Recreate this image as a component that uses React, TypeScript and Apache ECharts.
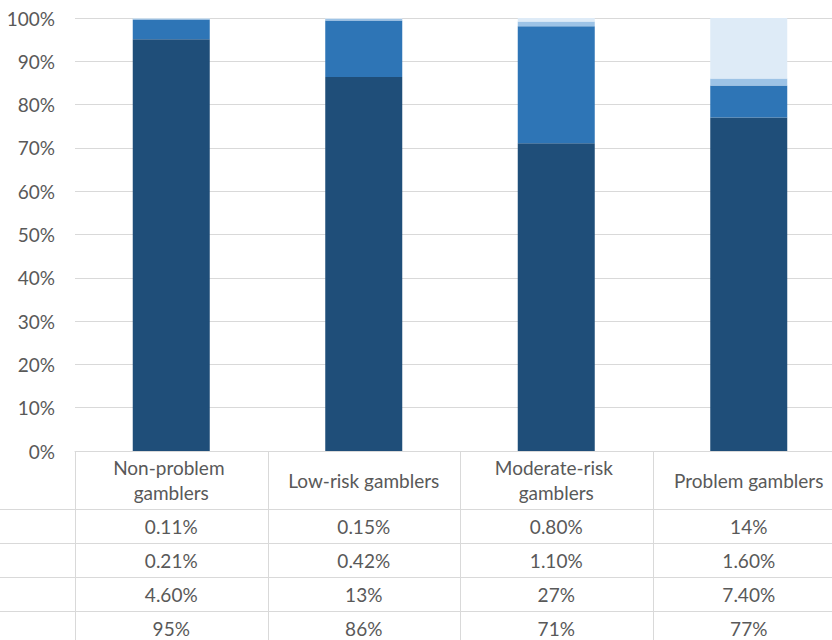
import React, { useEffect, useRef } from "react";
import * as echarts from "echarts";

// Gambler groups shown as columns
const categories = [
  "Non-problem gamblers",
  "Low-risk gamblers",
  "Moderate-risk gamblers",
  "Problem gamblers",
];

// Shares (percent) for each stacked band, bottom band first
const baseShare = [95, 86, 71, 77];
const secondShare = [4.6, 13, 27, 7.4];
const thirdShare = [0.21, 0.42, 1.1, 1.6];
const topShare = [0.11, 0.15, 0.8, 14];

// Band colours, bottom to top
const bandColors = ["#1F4E79", "#2E75B6", "#9DC3E6", "#DEEBF7"];

// Y-axis ticks (percent)
const yMin = 0;
const yMax = 100;
const yStep = 10;

const FONT = "Lato, 'Noto Sans', sans-serif";
const TEXT = "#595959";
const RULE = "#d9d9d9";

const fmtPct = (v: number) => (v >= 10 ? `${Math.round(v)}%` : `${v.toFixed(2)}%`);

export default function App() {
  const ref = useRef<HTMLDivElement>(null);

  useEffect(() => {
    if (!ref.current) return;
    const chart = echarts.init(ref.current, null, { renderer: "svg" });

    const bands = [baseShare, secondShare, thirdShare, topShare];
    const totals = categories.map((_, i) => bands.reduce((s, b) => s + b[i], 0));
    const normalised = bands.map((b) => b.map((v, i) => (v / totals[i]) * 100));

    chart.setOption({
      animation: false,
      grid: { left: 75, top: 18, right: 0, height: 433, containLabel: false },
      xAxis: {
        type: "category",
        data: categories,
        axisLine: { lineStyle: { color: RULE } },
        axisTick: { show: false },
        axisLabel: {
          interval: 0,
          margin: 29,
          width: 176,
          overflow: "break",
          verticalAlign: "middle",
          lineHeight: 25,
          fontFamily: FONT,
          fontSize: 19,
          color: TEXT,
        },
      },
      yAxis: {
        type: "value",
        min: yMin,
        max: yMax,
        interval: yStep,
        axisLine: { show: false },
        axisTick: { show: false },
        splitLine: { lineStyle: { color: RULE, width: 1 } },
        axisLabel: {
          margin: 20,
          formatter: "{value}%",
          fontFamily: FONT,
          fontSize: 19,
          color: TEXT,
        },
      },
      series: normalised.map((data, k) => ({
        type: "bar",
        stack: "share",
        barWidth: "40%",
        data,
        itemStyle: { color: bandColors[k] },
      })),
    });

    // Data table below the plot, aligned to the category bands
    const xs = categories.map((c) => chart.convertToPixel({ xAxisIndex: 0 }, c) as number);
    const half = (xs[1] - xs[0]) / 2;
    const y0 = chart.convertToPixel({ yAxisIndex: 0 }, 0) as number;
    const headerH = 58;
    const rowH = 34;
    const tableRows = [topShare, thirdShare, secondShare, baseShare];
    const tableBottom = y0 + headerH + tableRows.length * rowH;
    const right = xs[xs.length - 1] + half;

    const elements: any[] = [];
    for (let k = 0; k <= tableRows.length; k++) {
      const y = Math.round(y0 + headerH + k * rowH) + 0.5;
      elements.push({
        type: "line",
        shape: { x1: 0, y1: y, x2: right, y2: y },
        style: { stroke: RULE, lineWidth: 1 },
        silent: true,
      });
    }
    const edges = xs.map((x) => x - half).concat([right]);
    edges.forEach((x) => {
      const xx = Math.round(x) + 0.5;
      elements.push({
        type: "line",
        shape: { x1: xx, y1: y0, x2: xx, y2: tableBottom },
        style: { stroke: RULE, lineWidth: 1 },
        silent: true,
      });
    });
    tableRows.forEach((row, k) => {
      const cy = y0 + headerH + k * rowH + rowH / 2;
      row.forEach((v, i) => {
        elements.push({
          type: "text",
          x: xs[i],
          y: cy,
          silent: true,
          style: {
            text: fmtPct(v),
            fill: TEXT,
            font: `19px ${FONT}`,
            align: "center",
            verticalAlign: "middle",
          },
        });
      });
    });

    chart.setOption({ graphic: elements });

    return () => chart.dispose();
  }, []);

  return (
    <div
      ref={ref}
      style={{ position: "fixed", left: 0, top: 0, width: 845, height: 640, background: "#fff" }}
    />
  );
}
